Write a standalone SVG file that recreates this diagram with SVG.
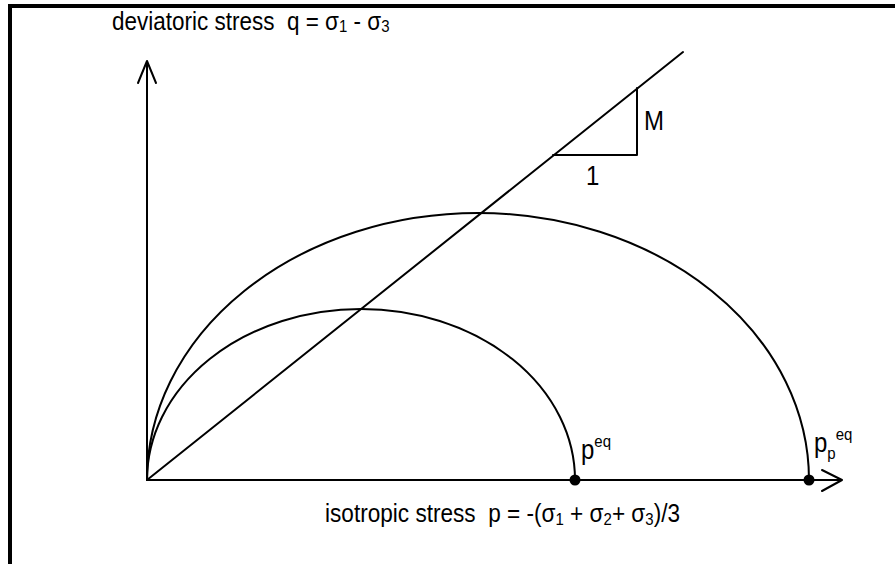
<svg xmlns="http://www.w3.org/2000/svg" width="895" height="564" viewBox="0 0 895 564">
<style>
.ln{fill:none;stroke:#000;stroke-width:2;stroke-linecap:round;stroke-linejoin:round}
.t{font-family:"Liberation Sans",Arial,sans-serif;fill:#000;white-space:pre}
.lg{font-size:22.5px}
.sm{font-size:15px}
.lb{font-size:24px}
</style>
<rect width="895" height="564" fill="#fff"/>
<path d="M10,570 V6 H900" fill="none" stroke="#000" stroke-width="4"/>
<g id="connectors">
<g id="q-axis"><path class="ln" d="M147,480 V62"/><path class="ln" d="M138,83 L147,61 L156,83"/></g>
<g id="p-axis"><path class="ln" d="M147,480 H841"/><path class="ln" d="M822,470 L842,480 L822,491"/></g>
<g id="csl-line"><path class="ln" d="M147,480 L683,52"/></g>
<g id="slope-triangle"><path class="ln" d="M553,155 H637 V88"/></g>
<g id="yield-small"><path class="ln" d="M147,480 A214,171 0 0 1 575,480"/></g>
<g id="yield-large"><path class="ln" d="M147,480 A331,267 0 0 1 809,480"/></g>
</g>
<g id="node-peq"><circle cx="575" cy="480" r="5.5"/><text class="t lb" transform="translate(581,459) scale(1,1.12)">p<tspan class="sm" dy="-11">eq</tspan></text></g>
<g id="node-ppeq"><circle cx="809" cy="480" r="5.5"/><text class="t lb" transform="translate(814,452) scale(1,1.12)">p<tspan class="sm" dy="6">p</tspan><tspan class="sm" dy="-17">eq</tspan></text></g>
<g id="label-q"><text class="t lg" transform="translate(112,30) scale(1,1.12)">deviatoric stress  q = σ<tspan class="sm" dy="2">1</tspan><tspan dy="-2"> - σ</tspan><tspan class="sm" dy="2">3</tspan></text></g>
<g id="label-p"><text class="t lg" transform="translate(325,522) scale(1,1.12)" style="font-size:22.6px">isotropic stress  p = -(σ<tspan class="sm" dy="3">1</tspan><tspan dy="-3"> + σ</tspan><tspan class="sm" dy="3">2</tspan><tspan dy="-3">+ σ</tspan><tspan class="sm" dy="3">3</tspan><tspan dy="-3">)/3</tspan></text></g>
<g id="label-M"><text class="t lb" transform="translate(644,130) scale(1,1.12)">M</text></g>
<g id="label-1"><text class="t lb" transform="translate(586,185) scale(1,1.12)">1</text></g>
</svg>
